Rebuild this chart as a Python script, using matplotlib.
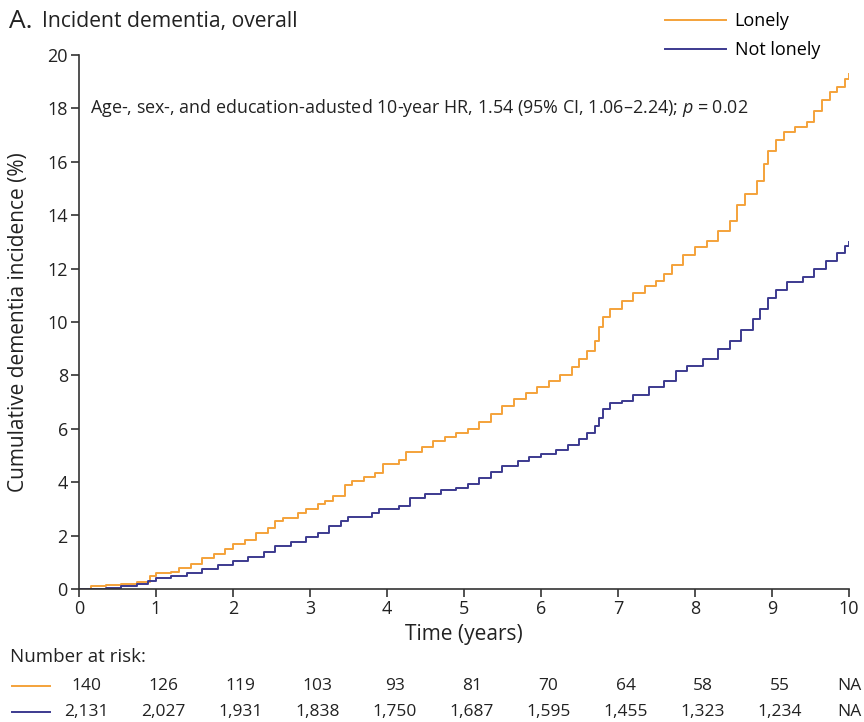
import matplotlib
matplotlib.use("Agg")
import matplotlib.pyplot as plt
import matplotlib.transforms as mtransforms
from matplotlib.lines import Line2D

plt.rcParams["font.family"] = ["Open Sans", "DejaVu Sans"]
plt.rcParams["mathtext.fontset"] = "custom"
plt.rcParams["mathtext.it"] = "Open Sans:italic"
plt.rcParams["mathtext.rm"] = "Open Sans"

# Kaplan-Meier style cumulative incidence
lonely_t = [0, 0.15, 0.35, 0.55, 0.75, 0.92, 1.0, 1.2, 1.3, 1.45,
            1.6, 1.75, 1.9, 2.0, 2.15, 2.3, 2.45, 2.55, 2.65, 2.85,
            2.95, 3.1, 3.2, 3.3, 3.45, 3.55, 3.7, 3.85, 3.95, 4.15,
            4.25, 4.45, 4.6, 4.75, 4.9, 5.05, 5.2, 5.35, 5.5, 5.65,
            5.8, 5.95, 6.1, 6.25, 6.4, 6.5, 6.6, 6.7, 6.75, 6.8,
            6.9, 7.05, 7.2, 7.35, 7.5, 7.6, 7.7, 7.85, 8.0, 8.15,
            8.3, 8.45, 8.55, 8.65, 8.8, 8.9, 8.95, 9.05, 9.15, 9.3,
            9.45, 9.55, 9.65, 9.75, 9.85, 9.95, 10.0]
lonely_y = [0, 0.1, 0.15, 0.2, 0.27, 0.5, 0.6, 0.65, 0.8, 0.95,
            1.15, 1.3, 1.5, 1.7, 1.85, 2.1, 2.3, 2.55, 2.65, 2.85,
            3.0, 3.2, 3.3, 3.5, 3.9, 4.05, 4.2, 4.35, 4.7, 4.85,
            5.15, 5.3, 5.55, 5.7, 5.85, 6.0, 6.25, 6.55, 6.85, 7.1,
            7.35, 7.55, 7.8, 8.0, 8.3, 8.6, 8.9, 9.3, 9.8, 10.2,
            10.5, 10.8, 11.1, 11.35, 11.55, 11.8, 12.15, 12.5, 12.8, 13.05,
            13.4, 13.8, 14.4, 14.8, 15.3, 15.9, 16.4, 16.8, 17.1, 17.3,
            17.5, 17.9, 18.3, 18.6, 18.8, 19.1, 19.3]

notlonely_t = [0, 0.35, 0.55, 0.75, 0.9, 1.0, 1.2, 1.4, 1.6, 1.8,
               2.0, 2.2, 2.4, 2.55, 2.75, 2.95, 3.1, 3.25, 3.4, 3.5,
               3.8, 3.9, 4.15, 4.3, 4.5, 4.7, 4.9, 5.05, 5.2, 5.35,
               5.5, 5.7, 5.85, 6.0, 6.2, 6.35, 6.5, 6.6, 6.7, 6.75,
               6.8, 6.9, 7.05, 7.2, 7.4, 7.6, 7.75, 7.9, 8.1, 8.3,
               8.45, 8.6, 8.75, 8.85, 8.95, 9.05, 9.2, 9.4, 9.55, 9.7,
               9.85, 9.95, 10.0]
notlonely_y = [0, 0.05, 0.1, 0.18, 0.3, 0.4, 0.5, 0.6, 0.75, 0.9,
               1.05, 1.2, 1.4, 1.6, 1.75, 1.95, 2.1, 2.35, 2.55, 2.7,
               2.85, 3.0, 3.1, 3.4, 3.55, 3.7, 3.8, 3.95, 4.15, 4.4,
               4.6, 4.8, 4.95, 5.05, 5.2, 5.4, 5.6, 5.85, 6.1, 6.4,
               6.75, 6.95, 7.05, 7.25, 7.55, 7.8, 8.15, 8.35, 8.6, 9.0,
               9.3, 9.7, 10.1, 10.5, 10.9, 11.2, 11.5, 11.7, 12.0, 12.3,
               12.6, 12.85, 13.0]

risk_times = [0, 1, 2, 3, 4, 5, 6, 7, 8, 9, 10]
risk_lonely = ["140", "126", "119", "103", "93", "81", "70", "64", "58", "55", "NA"]
risk_notlonely = ["2,131", "2,027", "1,931", "1,838", "1,750", "1,687",
                  "1,595", "1,455", "1,323", "1,234", "NA"]

ORANGE = "#F4A23A"
BLUE = "#3C3A8F"
TXT = "#222222"


def main():
    fig = plt.figure(figsize=(8.64, 7.22), dpi=100)
    ax = fig.add_axes([0.0914, 0.1842, 0.8912, 0.7396])

    ax.plot(lonely_t, lonely_y, drawstyle="steps-post", color=ORANGE, lw=1.4,
            label="Lonely")
    ax.plot(notlonely_t, notlonely_y, drawstyle="steps-post", color=BLUE, lw=1.4,
            label="Not lonely")

    ax.set_xlim(0, 10)
    ax.set_ylim(0, 20)
    ax.set_xticks(range(0, 11))
    ax.set_yticks(range(0, 21, 2))
    ax.spines["top"].set_visible(False)
    ax.spines["right"].set_visible(False)
    for s in ("left", "bottom"):
        ax.spines[s].set_linewidth(1.2)
        ax.spines[s].set_color("#333333")
    ax.tick_params(direction="out", length=6, width=1.2, colors="#333333",
                   labelsize=13, labelcolor=TXT, pad=2)

    ax.set_xlabel("Time (years)", fontsize=15, color=TXT)
    ax.set_ylabel("Cumulative dementia incidence (%)", fontsize=15, color=TXT)
    ax.xaxis.set_label_coords(0.5, -0.066)
    ax.yaxis.set_label_coords(-0.065, 0.5)

    ax.text(0.14, 18, "Age-, sex-, and education-adusted 10-year HR, 1.54 "
            "(95% CI, 1.06–2.24); $p$ = 0.02",
            fontsize=12.9, color=TXT, va="center", ha="left")

    # title
    fig.text(0.010, 0.970, "A.", fontsize=19, color=TXT, va="center")
    fig.text(0.049, 0.970, "Incident dementia, overall", fontsize=15.2,
             color=TXT, va="center")

    # legend
    fig.legend(loc="upper left", bbox_to_anchor=(665 / 864, 1 - 12 / 722),
               frameon=False, fontsize=13, handlelength=3.4,
               handletextpad=0.45, labelspacing=0.6, borderpad=0,
               borderaxespad=0)

    # number at risk table
    fig.text(0.012, 0.090, "Number at risk:", fontsize=13.5, color=TXT,
             va="center")
    trans = mtransforms.blended_transform_factory(ax.transData, fig.transFigure)
    rows = [(risk_lonely, ORANGE, 0.050), (risk_notlonely, BLUE, 0.014)]
    for labels, col, yy in rows:
        fig.add_artist(Line2D([0.014, 0.058], [yy, yy], color=col, lw=1.4,
                              transform=fig.transFigure))
        for t, lab in zip(risk_times, labels):
            off = 0.0 if lab == "NA" else 0.1
            ax.text(t + off, yy, lab, transform=trans, fontsize=12.5, color=TXT,
                    ha="center", va="center", clip_on=False)

    fig.savefig("out.png", dpi=100)
    plt.close(fig)


if __name__ == "__main__":
    main()
